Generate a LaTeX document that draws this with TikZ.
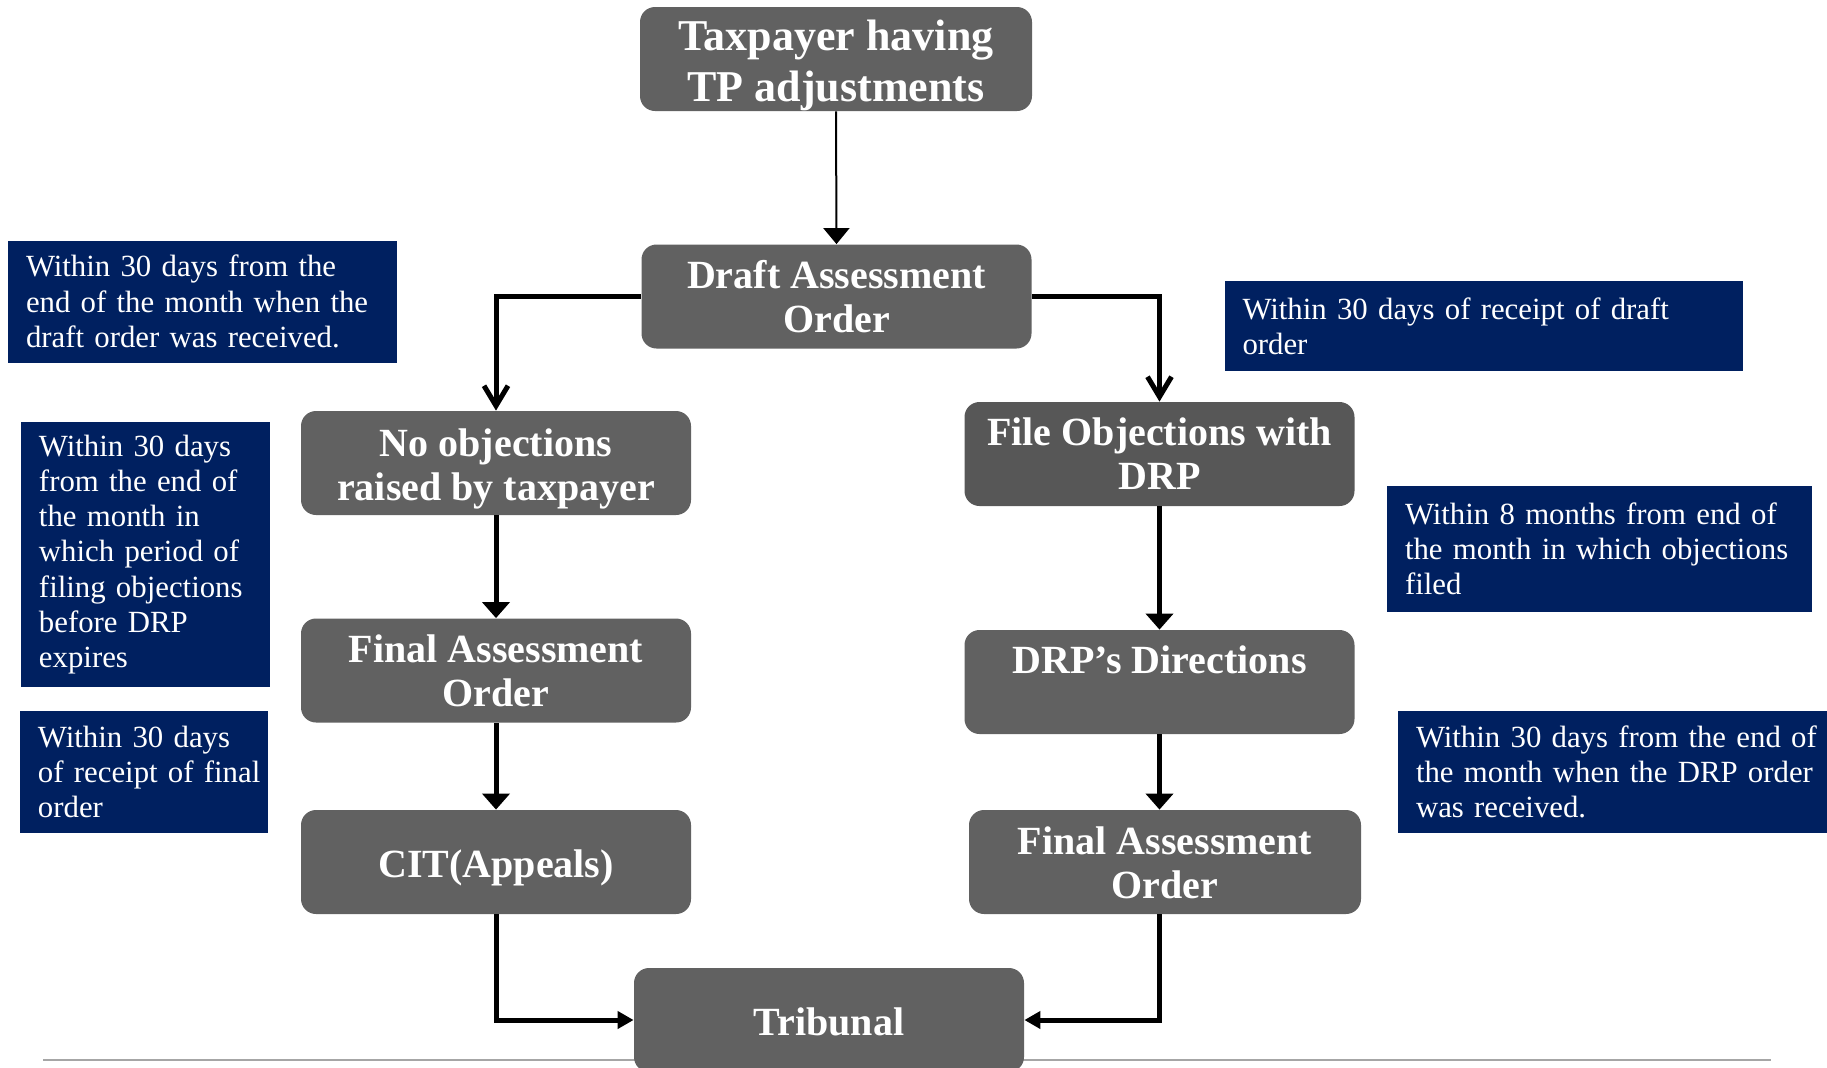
\documentclass[tikz,border=0pt]{standalone}
\usepackage{fontspec}
\setmainfont{Liberation Serif}
\usetikzlibrary{arrows.meta}
\definecolor{boxgray}{HTML}{616161}
\definecolor{boxdark}{HTML}{575757}
\definecolor{navy}{HTML}{002060}
\definecolor{rulegray}{HTML}{A6A6A6}
\tikzset{
  flowbox/.style={rounded corners=7.5pt, fill=boxgray, text=white, align=center,
    font=\bfseries\fontsize{20}{22}\selectfont, minimum width=195pt, minimum height=52pt, inner sep=0pt},
  note/.style={fill=navy, text=white, align=left, inner xsep=9pt, inner ysep=0pt,
    font=\fontsize{15.4}{17.6}\selectfont},
  thinarrow/.style={line width=1pt, -{Triangle[width=13pt,length=8pt]}},
  barbarrow/.style={line width=2.5pt, -{Straight Barb[width=12pt,length=10pt]}},
  triarrow/.style={line width=2.5pt, -{Triangle[width=13.5pt,length=8pt]}},
  sidearrow/.style={line width=2.5pt, -{Triangle[width=8.5pt,length=8pt]}}
}
\begin{document}
\begin{tikzpicture}[x=0.5pt,y=-0.5pt]
\useasboundingbox (0,0) rectangle (1827,1067);
\clip (0,0) rectangle (1827,1067);

% bottom rule
\coordinate (rl) at (43,1060);
\coordinate (rr) at (1771,1060);
\draw[rulegray, line width=0.8pt] (rl) -- (rr);

% flow boxes
\node[flowbox, minimum width=196pt, font=\bfseries\fontsize{22}{25.5}\selectfont] (tax) at (836,59) {\rule{0pt}{21.5pt}Taxpayer having\\TP adjustments};
\node[flowbox] (draft) at (836.5,296.5) {Draft Assessment\\Order};
\node[flowbox] (noobj) at (496,463) {\rule{0pt}{19.5pt}No objections\\raised by taxpayer};
\node[flowbox, fill=boxdark] (fileobj) at (1159.5,454) {File Objections with\\DRP};
\node[flowbox] (finalL) at (496,670.5) {Final Assessment\\Order};
\node[flowbox] (drp) at (1159.5,682) {DRP’s Directions\\\mbox{}};
\node[flowbox] (cit) at (496,862) {\rule{0pt}{19.6pt}CIT(Appeals)};
\node[flowbox, minimum width=196pt] (finalR) at (1165,862) {\rule{0pt}{15pt}Final Assessment\\Order};
\node[flowbox] (trib) at (829,1020) {\rule{0pt}{15.6pt}Tribunal};

% notes
\node[note, text width=176.5pt, minimum height=61pt] (n1) at (202.5,301.5)
  {Within 30 days from the\\end of the month when the\\draft order was received.};
\node[note, text width=106.5pt, minimum height=132.5pt] (n2) at (145.5,554.5)
  {Within 30 days\\from the end of\\the month in\\which period of\\filing objections\\before DRP\\expires};
\node[note, text width=106pt, minimum height=61pt] (n3) at (144,772)
  {Within 30 days\\\mbox{of receipt of final}\\order};
\node[note, text width=241pt, minimum height=44.75pt] (n4) at (1483.5,326)
  {Within 30 days of receipt of draft\\order};
\node[note, text width=194.5pt, minimum height=63pt] (n5) at (1599.5,549)
  {Within 8 months from end of\\the month in which objections\\filed};
\node[note, text width=202pt, minimum height=61pt] (n6) at (1618,772)
  {Within 30 days from the end of\\the month when the DRP order\\was received.};

% connectors
\draw[thinarrow] (tax.south) -- (draft.north);
\draw[barbarrow] (draft.west) -| (noobj.north);
\draw[barbarrow] (draft.east) -| (fileobj.north);
\draw[triarrow] (noobj.south) -- (finalL.north);
\draw[triarrow] (finalL.south) -- (cit.north);
\draw[triarrow] (fileobj.south) -- (drp.north);
\draw[triarrow] (drp.south) -- (drp.south |- finalR.north);
\draw[sidearrow] (cit.south) |- (trib.west);
\draw[sidearrow] (drp.south |- finalR.south) |- (trib.east);
\end{tikzpicture}
\end{document}
